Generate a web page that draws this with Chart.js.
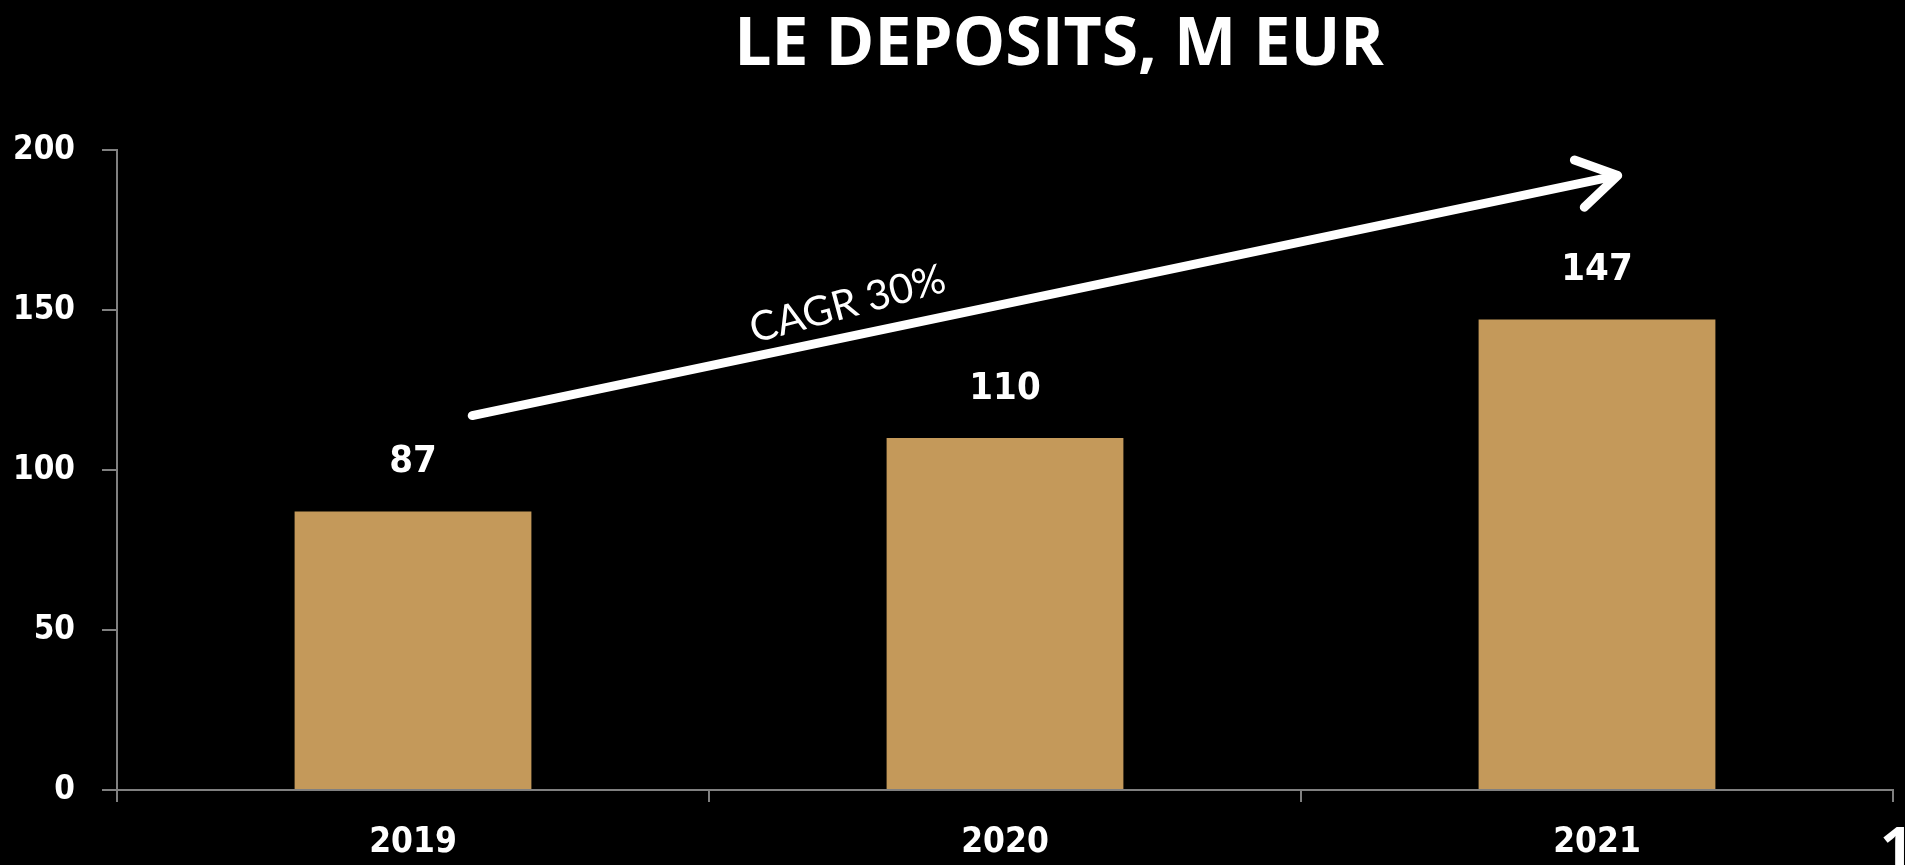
<!DOCTYPE html>
<html>
<head>
    <title>LE deposits</title>
    <script src="https://cdn.jsdelivr.net/npm/chart.js@4"></script>
    <style>
        body { margin: 0; background: #000; overflow: hidden; }
        #myChart { display: block; }
    </style>
</head>
<body>
    <canvas id="myChart" width="1905" height="865"></canvas>
    <script>
        var years = ['2019', '2020', '2021'];
        var deposits = [87, 110, 147];
        var yTicks = [0, 50, 100, 150, 200];
        var titleText = 'LE DEPOSITS, M EUR';
        var cagrText = 'CAGR 30%';
        // arrow ends, in category index / value units
        var arrowFrom = [0.1, 117];
        var arrowTo = [2.035, 192];

        var axisGray = '#808080';
        var tickFont = "'DejaVu Sans Condensed', 'DejaVu Sans', sans-serif";

        // title, value labels, growth arrow and page number
        var extras = {
            id: 'extras',
            afterDatasetsDraw: function (chart) {
                var ctx = chart.ctx;
                var x = chart.scales.x, y = chart.scales.y;
                ctx.save();
                ctx.fillStyle = '#fff';

                ctx.font = 'bold 66px "Open Sans"';
                ctx.textAlign = 'center';
                ctx.textBaseline = 'middle';
                ctx.fillText(titleText, 1059, 46);

                ctx.font = 'bold 38px ' + tickFont;
                chart.getDatasetMeta(0).data.forEach(function (bar, i) {
                    ctx.fillText(deposits[i], bar.x, bar.y - 49);
                });

                var x1 = x.getPixelForValue(arrowFrom[0]), y1 = y.getPixelForValue(arrowFrom[1]);
                var x2 = x.getPixelForValue(arrowTo[0]), y2 = y.getPixelForValue(arrowTo[1]);
                var ang = Math.atan2(y2 - y1, x2 - x1);
                ctx.strokeStyle = '#fff';
                ctx.lineWidth = 9;
                ctx.lineCap = 'round';
                ctx.lineJoin = 'round';
                ctx.beginPath();
                ctx.moveTo(x1, y1);
                ctx.lineTo(x2 - 3 * Math.cos(ang), y2 - 3 * Math.sin(ang));
                ctx.stroke();
                ctx.beginPath();
                ctx.moveTo(x2 - 46 * Math.cos(ang - 0.55), y2 - 46 * Math.sin(ang - 0.55));
                ctx.lineTo(x2, y2);
                ctx.lineTo(x2 - 46 * Math.cos(ang + 0.55), y2 - 46 * Math.sin(ang + 0.55));
                ctx.stroke();

                ctx.save();
                ctx.translate(851, 317);
                ctx.rotate(-15 * Math.PI / 180);
                ctx.font = '41px Lato';
                ctx.textBaseline = 'alphabetic';
                ctx.fillText(cagrText, 0, 0);
                ctx.restore();

                ctx.font = 'bold 58px "Open Sans"';
                ctx.textAlign = 'left';
                ctx.textBaseline = 'alphabetic';
                ctx.fillText('1', 1880, 868);
                ctx.restore();
            }
        };

        var ctx = document.getElementById('myChart').getContext('2d');
        var myChart = new Chart(ctx, {
            type: 'bar',
            data: {
                labels: years,
                datasets: [{
                    label: 'LE deposits',
                    data: deposits,
                    backgroundColor: '#c4995a',
                    categoryPercentage: 1,
                    barPercentage: 0.4
                }]
            },
            options: {
                responsive: false,
                animation: false,
                layout: { padding: { top: 150, right: 12, left: 0, bottom: 0 } },
                plugins: { legend: { display: false }, tooltip: { enabled: false } },
                scales: {
                    x: {
                        afterFit: function (s) { s.height = 75; },
                        grid: { offset: true, drawOnChartArea: false, color: axisGray, lineWidth: 2, tickLength: 12 },
                        border: { color: axisGray, width: 2 },
                        ticks: { color: '#fff', padding: 20, font: { family: tickFont, weight: 'bold', size: 35 } }
                    },
                    y: {
                        min: 0,
                        max: 200,
                        afterFit: function (s) { s.width = 117; },
                        afterBuildTicks: function (s) { s.ticks = yTicks.map(function (v) { return { value: v }; }); },
                        grid: { drawOnChartArea: false, color: axisGray, lineWidth: 2, tickLength: 15 },
                        border: { color: axisGray, width: 2 },
                        ticks: { color: '#fff', padding: 27, font: { family: tickFont, weight: 'bold', size: 33 } }
                    }
                }
            },
            plugins: [extras]
        });
    </script>
</body>
</html>
